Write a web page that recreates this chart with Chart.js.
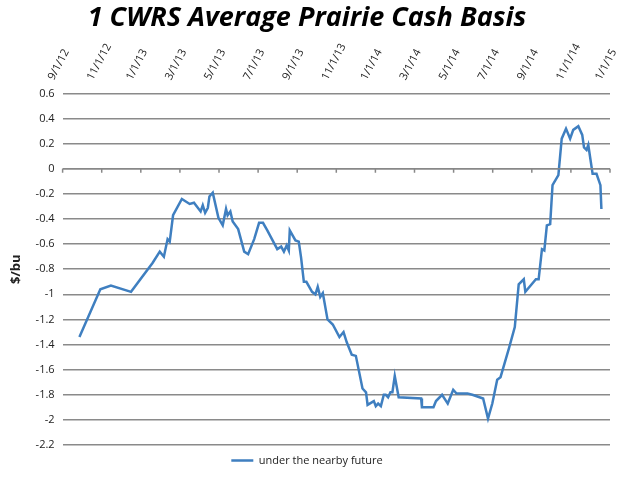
<!DOCTYPE html>
<html><head><meta charset="utf-8">
<script src="https://cdn.jsdelivr.net/npm/chart.js@4"></script>
<style>body{margin:0;background:#fff}</style>
</head><body><canvas id="c" width="640" height="480"></canvas>
<script>
const tickLabels=["9/1/12","11/1/12","1/1/13","3/1/13","5/1/13","7/1/13","9/1/13","11/1/13","1/1/14","3/1/14","5/1/14","7/1/14","9/1/14","11/1/14","1/1/15"];
// months since 9/1/12
const months=[0.86,1.93,2.47,3.5,4.6,4.97,5.18,5.37,5.48,5.65,6.1,6.5,6.72,7.06,7.17,7.29,7.43,7.51,7.68,7.97,8.19,8.36,8.44,8.58,8.7,8.98,9.29,9.49,9.8,10.05,10.25,10.47,10.98,11.18,11.32,11.46,11.57,11.62,11.91,12.08,12.2,12.34,12.47,12.76,12.93,13.05,13.18,13.31,13.55,13.82,14.16,14.37,14.53,14.79,15.0,15.34,15.52,15.6,15.92,16.02,16.14,16.28,16.43,16.53,16.65,16.77,16.87,16.99,17.19,18.34,18.38,18.97,19.1,19.41,19.7,19.98,20.15,20.71,20.96,21.51,21.76,21.98,22.23,22.4,22.83,23.13,23.33,23.59,23.67,24.21,24.35,24.52,24.64,24.77,24.94,25.06,25.36,25.53,25.75,25.96,26.12,26.38,26.58,26.67,26.8,26.89,27.11,27.31,27.51,27.56];
const basis=[-1.34,-0.96,-0.93,-0.98,-0.75,-0.66,-0.70,-0.56,-0.58,-0.37,-0.24,-0.28,-0.27,-0.34,-0.29,-0.35,-0.31,-0.22,-0.19,-0.39,-0.45,-0.32,-0.37,-0.34,-0.42,-0.48,-0.66,-0.68,-0.56,-0.43,-0.43,-0.49,-0.64,-0.62,-0.66,-0.61,-0.65,-0.49,-0.57,-0.58,-0.71,-0.90,-0.90,-0.98,-1.0,-0.94,-1.02,-0.99,-1.20,-1.24,-1.34,-1.30,-1.38,-1.48,-1.49,-1.75,-1.78,-1.88,-1.85,-1.89,-1.87,-1.89,-1.80,-1.80,-1.82,-1.78,-1.78,-1.65,-1.82,-1.83,-1.90,-1.90,-1.85,-1.80,-1.87,-1.76,-1.79,-1.79,-1.80,-1.83,-1.99,-1.87,-1.68,-1.66,-1.43,-1.26,-0.92,-0.88,-0.98,-0.88,-0.88,-0.64,-0.65,-0.45,-0.44,-0.13,-0.05,0.24,0.32,0.24,0.31,0.34,0.27,0.17,0.15,0.19,-0.04,-0.04,-0.13,-0.32];
const seriesName="under the nearby future";
const zeroAxis={id:'zeroAxis',afterDatasetsDraw(ch){const x=ch.scales.x,y=ch.scales.y,c=ch.ctx;const py=y.getPixelForValue(0);c.save();c.strokeStyle='#888';c.lineWidth=1.5;c.beginPath();c.moveTo(x.left,py);c.lineTo(x.right,py);for(let m=0;m<=28;m+=2){const px=x.getPixelForValue(m);c.moveTo(px,py);c.lineTo(px,py+4);}c.stroke();c.restore();}};
new Chart(document.getElementById('c'),{type:'line',
data:{datasets:[{label:seriesName,data:months.map((m,i)=>({x:m,y:basis[i]})),borderColor:'#3f7fc0',backgroundColor:'#3f7fc0',borderWidth:2.5,pointRadius:0,tension:0}]},
options:{responsive:false,animation:false,devicePixelRatio:1,
layout:{padding:{left:4,right:30,top:0,bottom:4}},
plugins:{title:{display:true,text:'1 CWRS Average Prairie Cash Basis',font:{family:'Open Sans',size:27,weight:'bold',style:'italic'},color:'#000',padding:{top:2,bottom:4}},
legend:{position:'bottom',labels:{boxWidth:22,boxHeight:0,font:{family:'Open Sans',size:11},color:'#222'}},tooltip:{enabled:false}},
scales:{x:{type:'linear',position:'top',min:0,max:28,grid:{display:false},border:{display:false},
ticks:{stepSize:2,autoSkip:false,minRotation:62,maxRotation:62,font:{family:'Open Sans',size:11},color:'#222',callback:v=>tickLabels[v/2]}},
y:{min:-2.2,max:0.6,grid:{color:'#8a8a8a',lineWidth:1.5,drawTicks:false},border:{display:false},
ticks:{stepSize:0.2,padding:8,font:{family:'Open Sans',size:11},color:'#222',callback:v=>{const r=Math.round(v*10)/10;return r===0?'0':String(r);}},
title:{display:true,text:'$/bu',font:{family:'Open Sans',size:13,weight:'bold'},color:'#222'}}}},
plugins:[zeroAxis]});
</script></body></html>
